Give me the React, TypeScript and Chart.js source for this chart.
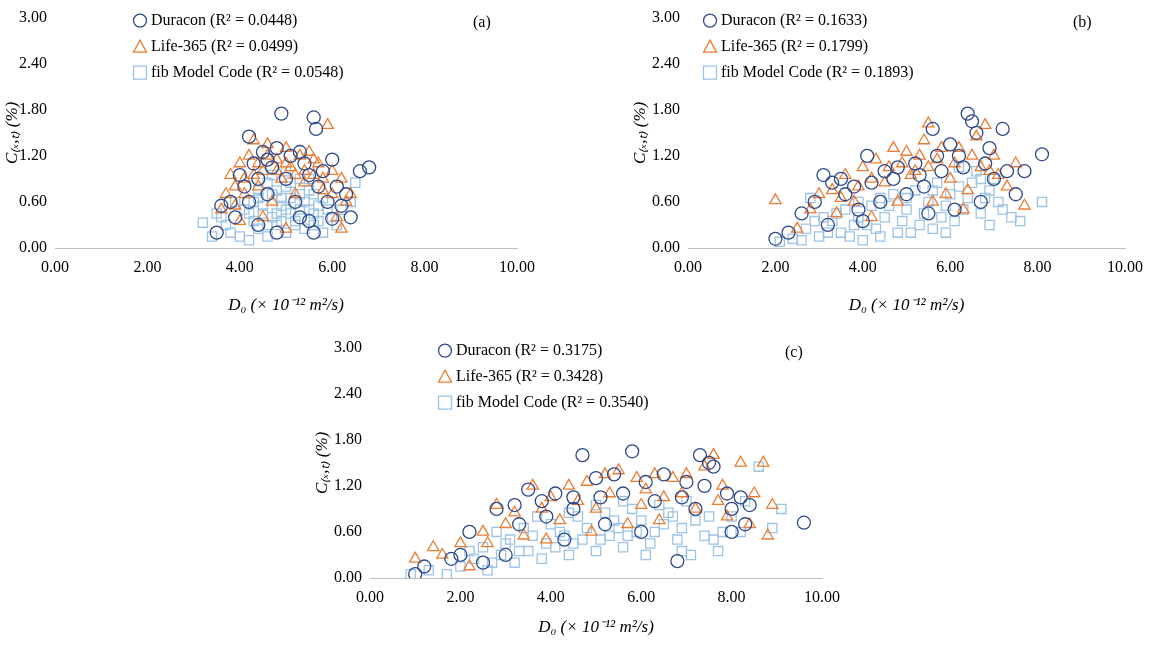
import { useEffect, useRef } from 'react';
import { Chart, registerables } from 'chart.js';

Chart.register(...registerables);

type Pt = [number, number];

const seriesNames = ['Duracon', 'Life-365', 'fib Model Code'];
const xTicks = [0, 2, 4, 6, 8, 10];
const yTicks = [0, 0.6, 1.2, 1.8, 2.4, 3.0];

const r2A = ['0.0448', '0.0499', '0.0548'];
const r2B = ['0.1633', '0.1799', '0.1893'];
const r2C = ['0.3175', '0.3428', '0.3540'];

// panel (a)
const duraconA: Pt[] = [[4.9,1.75],[5.6,1.7],[5.65,1.55],[4.2,1.45],[4.5,1.25],[5.3,1.25],[6.0,1.15],[6.8,1.05],[6.6,1.0],[4.0,0.95],[4.8,1.3],[5.8,1.0],[3.8,0.6],[3.6,0.55],[4.1,0.8],[6.1,0.8],[6.2,0.55],[6.0,0.38],[3.5,0.2],[4.4,0.3],[5.5,0.35],[5.0,0.9],[4.6,0.7],[5.2,0.6],[5.7,0.8],[4.3,1.1],[4.7,1.05],[5.4,1.1],[6.3,0.7],[3.9,0.4],
  [4.6,1.15],[5.1,1.2],[5.5,0.95],[5.9,0.6],[4.2,0.6],[4.4,0.9],[5.3,0.4],[4.8,0.2],[6.4,0.4],[5.6,0.2]];
const lifeA: Pt[] = [[5.9,1.6],[4.3,1.4],[4.6,1.35],[5.0,1.3],[5.5,1.25],[3.8,0.95],[4.0,1.1],[4.2,1.2],[4.8,1.15],[5.3,1.2],[5.7,1.1],[6.0,1.0],[6.2,0.9],[3.6,0.5],[3.7,0.7],[4.1,0.9],[4.5,1.0],[5.1,1.05],[5.6,0.95],[6.3,0.6],[4.4,0.8],[4.9,0.9],[5.4,0.85],[5.8,0.75],[6.1,0.4],[3.9,0.55],[4.7,0.6],[5.2,0.7],[4.0,0.35],[5.0,0.25],
  [4.4,1.1],[4.6,1.2],[4.8,1.0],[5.0,1.1],[5.2,0.95],[5.4,1.0],[5.6,1.15],[5.8,0.9],[6.0,0.7],[4.3,0.95],[4.1,0.7],[3.9,0.8],[6.4,0.7],[6.2,0.25],[4.5,0.4]];
const fibA: Pt[] = [[3.2,0.33],[3.4,0.15],[3.6,0.4],[3.8,0.2],[4.0,0.15],[4.2,0.1],[4.4,0.25],[4.6,0.15],[4.8,0.3],[5.0,0.2],[5.2,0.35],[5.4,0.25],[5.6,0.3],[5.8,0.2],[6.0,0.4],[6.2,0.5],[6.5,0.85],[6.4,0.6],[4.1,0.5],[4.3,0.6],[4.5,0.45],[4.7,0.7],[4.9,0.55],[5.1,0.65],[5.3,0.5],[5.5,0.75],[5.7,0.55],[4.6,0.85],[5.0,0.8],[5.3,0.9],[4.4,0.75],[5.8,0.65],[3.9,0.6],[4.8,0.45],[5.6,0.45],
  [4.3,0.35],[4.5,0.55],[4.7,0.4],[4.9,0.65],[5.1,0.45],[5.3,0.7],[5.5,0.5],[5.7,0.35],[4.4,0.65],[4.6,0.3],[4.8,0.75],[5.0,0.5],[5.2,0.3],[5.4,0.6],[5.6,0.7],[4.2,0.45],[4.9,0.35],[5.1,0.85],[5.5,0.9],[4.7,0.95],[5.9,0.5],[6.1,0.3],[3.7,0.3],[3.5,0.45],[5.0,1.0]];

// panel (b)
const duraconB: Pt[] = [[2.0,0.12],[2.3,0.2],[2.6,0.45],[2.9,0.6],[3.1,0.95],[3.3,0.85],[3.5,0.9],[3.8,0.8],[4.1,1.2],[4.5,1.0],[4.8,1.05],[5.2,1.1],[5.6,1.55],[6.0,1.35],[6.4,1.75],[6.5,1.65],[6.6,1.5],[6.9,1.3],[7.2,1.55],[7.7,1.0],[8.1,1.22],[7.5,0.7],[7.0,0.9],[6.2,1.2],[5.8,1.0],[5.4,0.8],[5.0,0.7],[4.4,0.6],[3.9,0.5],[3.2,0.3],[6.7,0.6],[6.1,0.5],
  [3.6,0.7],[4.2,0.85],[4.7,0.9],[5.3,0.95],[5.7,1.2],[6.3,1.05],[6.8,1.1],[7.3,1.0],[4.0,0.35],[5.5,0.45]];
const lifeB: Pt[] = [[2.0,0.62],[2.5,0.25],[2.8,0.5],[3.0,0.7],[3.3,0.75],[3.6,0.95],[4.0,1.05],[4.3,1.15],[4.7,1.3],[5.0,1.25],[5.3,1.2],[5.5,1.62],[5.4,1.4],[5.8,1.3],[6.2,1.3],[6.6,1.45],[6.8,1.6],[7.1,0.95],[7.5,1.1],[7.7,0.55],[7.3,0.8],[6.9,1.0],[6.0,0.9],[5.1,0.95],[4.5,0.85],[3.8,0.6],[4.2,0.4],[5.6,0.6],[6.4,0.75],[3.4,0.45],
  [3.5,0.65],[3.9,0.8],[4.2,0.9],[4.6,1.05],[4.9,1.1],[5.2,1.0],[5.5,1.05],[5.7,1.15],[6.1,1.1],[6.5,1.2],[6.7,1.05],[7.0,1.2],[4.8,0.6],[5.9,0.7],[6.3,0.5]];
const fibB: Pt[] = [[2.1,0.08],[2.4,0.12],[2.7,0.25],[2.8,0.65],[3.0,0.15],[3.3,0.35],[3.5,0.2],[3.8,0.3],[4.0,0.1],[4.3,0.25],[4.5,0.4],[4.8,0.2],[5.0,0.5],[5.3,0.3],[5.5,0.6],[5.8,0.4],[6.0,0.7],[6.3,0.5],[6.5,0.85],[6.8,0.65],[7.0,0.9],[7.2,0.5],[7.4,0.4],[7.6,0.35],[8.1,0.6],[6.6,1.0],[6.2,1.05],[3.6,0.5],[4.2,0.55],[4.7,0.7],[5.2,0.75],[5.7,0.85],[3.1,0.4],[6.9,0.3],[5.9,0.2],
  [3.2,0.2],[3.4,0.45],[3.7,0.15],[3.9,0.4],[4.1,0.3],[4.4,0.15],[4.6,0.55],[4.9,0.35],[5.1,0.2],[5.4,0.45],[5.6,0.25],[5.9,0.55],[6.1,0.35],[6.4,0.65],[6.7,0.45],[6.9,0.75],[7.1,0.6],[4.4,0.65],[5.0,0.65],[5.6,0.75],[6.2,0.8],[6.7,0.9],[3.9,0.6],[2.9,0.35],[2.6,0.1]];

// panel (c)
const duraconC: Pt[] = [[1.0,0.05],[1.2,0.15],[1.8,0.25],[2.2,0.6],[2.8,0.9],[3.3,0.7],[3.5,1.15],[3.8,1.0],[4.1,1.1],[4.5,1.05],[4.7,1.6],[5.0,1.3],[5.4,1.35],[5.8,1.65],[6.1,1.25],[6.5,1.35],[7.0,1.25],[7.3,1.6],[7.5,1.5],[7.6,1.45],[7.9,1.1],[8.2,1.05],[8.4,0.95],[8.3,0.7],[9.6,0.72],[6.8,0.22],[7.2,0.9],[6.0,0.6],[5.2,0.7],[4.3,0.5],[3.0,0.3],[2.5,0.2],[8.0,0.6],
  [3.2,0.95],[3.9,0.8],[4.5,0.9],[5.1,1.05],[5.6,1.1],[6.3,1.0],[6.9,1.05],[7.4,1.2],[2.0,0.3],[8.0,0.9]];
const lifeC: Pt[] = [[1.0,0.25],[1.4,0.4],[1.6,0.3],[2.0,0.45],[2.5,0.6],[2.8,0.95],[3.2,0.85],[3.6,1.2],[4.0,1.05],[4.4,1.2],[4.8,1.25],[5.2,1.35],[5.5,1.4],[5.9,1.3],[6.3,1.35],[6.7,1.3],[7.0,1.35],[7.4,1.45],[7.6,1.6],[7.8,1.2],[8.2,1.5],[8.5,1.1],[8.7,1.5],[8.9,0.95],[8.8,0.55],[8.4,0.7],[7.2,0.9],[6.0,0.95],[5.0,0.9],[4.2,0.75],[3.4,0.55],[2.2,0.15],
  [3.0,0.7],[3.8,0.9],[4.6,1.0],[5.3,1.1],[6.1,1.15],[6.5,1.05],[6.9,1.1],[7.7,1.0],[2.6,0.45],[3.9,0.5],[4.9,0.6],[5.7,0.7],[6.4,0.75],[7.9,0.8]];
const fibC: Pt[] = [[0.9,0.05],[1.3,0.1],[1.7,0.05],[2.0,0.15],[2.3,0.25],[2.6,0.1],[2.9,0.3],[3.2,0.2],[3.5,0.35],[3.8,0.25],[4.1,0.4],[4.4,0.3],[4.7,0.5],[5.0,0.35],[5.3,0.55],[5.6,0.4],[5.9,0.6],[6.2,0.45],[6.5,0.7],[6.8,0.5],[7.1,0.3],[7.4,0.55],[7.7,0.35],[8.0,0.8],[8.3,1.0],[8.6,1.45],[8.9,0.65],[9.1,0.9],[2.8,0.6],[3.4,0.65],[4.0,0.7],[4.6,0.8],[5.2,0.85],[5.8,0.9],[6.4,0.95],[7.0,1.0],[3.0,0.45],[4.3,0.55],[5.5,0.65],[6.7,0.8],
  [2.2,0.35],[2.5,0.4],[2.7,0.2],[3.1,0.5],[3.3,0.35],[3.6,0.55],[3.9,0.45],[4.2,0.6],[4.5,0.45],[4.8,0.65],[5.1,0.5],[5.4,0.75],[5.7,0.55],[6.0,0.75],[6.3,0.6],[6.6,0.85],[6.9,0.65],[7.2,0.75],[7.5,0.8],[7.8,0.6],[3.7,0.8],[4.4,0.85],[5.0,0.95],[5.6,1.0],[6.1,0.3],[6.9,0.35],[7.6,0.5],[8.2,0.6]];

const colors = ['#2F4A8A', '#ED7D31', '#9DC3E6'];
const styles = ['circle', 'triangle', 'rect'] as const;
const FONT = '"Liberation Serif", "Times New Roman", serif';

type PanelProps = {
  left: number; top: number; width: number; height: number;
  yWidth: number; xHeight: number; padRight: number;
  series: Pt[][]; r2: string[]; tag: string; legendX: number; tagX: number;
};

function Panel(p: PanelProps) {
  const ref = useRef<HTMLCanvasElement>(null);
  useEffect(() => {
    if (!ref.current) return;
    const legendPlugin = {
      id: 'inLegend',
      afterDraw(chart: Chart) {
        const { ctx, chartArea } = chart;
        ctx.save();
        ctx.font = `16px ${FONT}`;
        ctx.textBaseline = 'middle';
        seriesNames.forEach((n, i) => {
          const x = chartArea.left + p.legendX;
          const y = chartArea.top + 3 + i * 26;
          ctx.strokeStyle = colors[i];
          ctx.lineWidth = 1.3;
          ctx.beginPath();
          if (i === 0) ctx.arc(x, y, 6.5, 0, Math.PI * 2);
          else if (i === 1) { ctx.moveTo(x, y - 6.5); ctx.lineTo(x + 6.5, y + 5.5); ctx.lineTo(x - 6.5, y + 5.5); ctx.closePath(); }
          else ctx.rect(x - 6.5, y - 6.5, 13, 13);
          ctx.stroke();
          ctx.fillStyle = '#000';
          ctx.fillText(`${n} (R² = ${p.r2[i]})`, x + 11, y);
        });
        ctx.fillText(p.tag, chartArea.left + p.tagX, chartArea.top + 5);
        ctx.restore();
      },
    };
    const chart = new Chart(ref.current, {
      type: 'scatter',
      data: {
        datasets: p.series.map((d, i) => ({
          label: seriesNames[i],
          data: d.map(([x, y]) => ({ x, y })),
          pointStyle: styles[i],
          pointRadius: 6.5,
          borderColor: colors[i],
          backgroundColor: 'rgba(0,0,0,0)',
          borderWidth: 1.3,
        })),
      },
      options: {
        animation: false,
        responsive: false,
        layout: { padding: { top: 15, right: p.padRight, left: 0, bottom: 0 } },
        plugins: { legend: { display: false }, tooltip: { enabled: false } },
        scales: {
          x: {
            min: 0, max: 10,
            afterBuildTicks: (s: any) => { s.ticks = xTicks.map((v) => ({ value: v })); },
            afterFit: (s: any) => { s.height = p.xHeight; },
            grid: { display: false, drawTicks: false },
            border: { display: true, color: '#bfbfbf' },
            ticks: { color: '#000', padding: 10, font: { family: FONT, size: 16 }, callback: (v: any) => Number(v).toFixed(2) },
            title: { display: true, text: 'D₀ (× 10⁻¹² m²/s)', color: '#000', font: { family: FONT, size: 17, style: 'italic' }, padding: { top: 6 } },
          },
          y: {
            min: 0, max: 3,
            afterBuildTicks: (s: any) => { s.ticks = yTicks.map((v) => ({ value: v })); },
            afterFit: (s: any) => { s.width = p.yWidth; },
            grid: { display: false, drawTicks: false },
            border: { display: false },
            ticks: { color: '#000', padding: 8, font: { family: FONT, size: 16 }, callback: (v: any) => Number(v).toFixed(2) },
            title: { display: true, text: 'C₍ₓ,ₜ₎ (%)', color: '#000', font: { family: FONT, size: 17, style: 'italic' }, padding: 2 },
          },
        },
      },
      plugins: [legendPlugin],
    });
    return () => chart.destroy();
  }, []);
  return (
    <canvas ref={ref} width={p.width} height={p.height}
      style={{ position: 'absolute', left: p.left, top: p.top, width: p.width, height: p.height }} />
  );
}

export default function App() {
  return (
    <div style={{ position: 'fixed', left: 0, top: 0, width: 1153, height: 645, background: '#fff' }}>
      <Panel left={0} top={0} width={545} height={320} yWidth={55} xHeight={72} padRight={25}
        series={[duraconA, lifeA, fibA]} r2={r2A} tag="(a)" legendX={85} tagX={418} />
      <Panel left={628} top={0} width={525} height={320} yWidth={60} xHeight={72} padRight={18}
        series={[duraconB, lifeB, fibB]} r2={r2B} tag="(b)" legendX={22} tagX={385} />
      <Panel left={310} top={330} width={540} height={312} yWidth={60} xHeight={64} padRight={24}
        series={[duraconC, lifeC, fibC]} r2={r2C} tag="(c)" legendX={75} tagX={415} />
    </div>
  );
}
